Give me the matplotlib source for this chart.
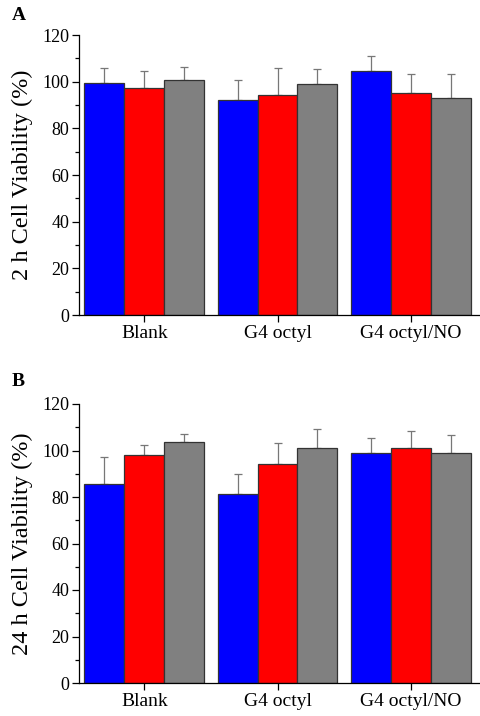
import matplotlib.pyplot as plt
import numpy as np
from matplotlib.ticker import MultipleLocator

plt.rcParams["font.family"] = ["Liberation Serif", "DejaVu Serif"]

groups = ["Blank", "G4 octyl", "G4 octyl/NO"]
series_colors = ["#0000FF", "#FF0000", "#808080"]

# panel A, 2 h viability (rows = blue, red, gray series)
vals_2h = [
    [99.3, 92.0, 104.6],
    [97.1, 94.4, 95.1],
    [100.6, 99.1, 93.1],
]
err_2h = [
    [6.7, 8.6, 6.6],
    [7.5, 11.5, 8.0],
    [5.8, 6.5, 10.3],
]

# panel B, 24 h viability
vals_24h = [
    [85.7, 81.5, 99.0],
    [98.0, 94.2, 101.2],
    [103.8, 100.9, 99.0],
]
err_24h = [
    [11.3, 8.6, 6.2],
    [4.5, 8.9, 7.3],
    [3.3, 8.2, 7.5],
]

fig = plt.figure(figsize=(4.81, 7.16), dpi=100)
W, H = 481, 716


def draw_panel(rect, vals, errs, ylabel, letter, letter_y):
    ax = fig.add_axes(rect)
    x = np.arange(1, len(groups) + 1)
    bw = 0.3
    for i, (v, e) in enumerate(zip(vals, errs)):
        ax.bar(x + (i - 1) * bw, v, width=bw, color=series_colors[i],
               edgecolor="#333333", linewidth=0.9, zorder=2)
        ax.errorbar(x + (i - 1) * bw, v, yerr=[np.zeros(len(e)), e],
                    fmt="none", ecolor="#777777", elinewidth=0.9,
                    capsize=3, capthick=0.9, zorder=1)
    ax.set_xlim(0.51, 3.52)
    ax.set_ylim(0, 120)
    ax.yaxis.set_major_locator(MultipleLocator(20))
    ax.yaxis.set_minor_locator(MultipleLocator(10))
    ax.set_xticks(x)
    ax.set_xticklabels(groups, fontsize=14)
    ax.tick_params(axis="y", labelsize=13, direction="out", length=5, width=0.9, pad=2)
    ax.tick_params(axis="y", which="minor", direction="out", length=3, width=0.9)
    ax.tick_params(axis="x", direction="out", length=5, width=0.9, pad=2)
    ax.spines["top"].set_visible(False)
    ax.spines["right"].set_visible(False)
    ax.spines["left"].set_linewidth(0.9)
    ax.spines["bottom"].set_linewidth(0.9)
    ax.set_ylabel(ylabel, fontsize=17.5, labelpad=7)
    fig.text(12 / W, 1 - letter_y / H, letter, fontsize=14, fontweight="bold",
             va="center", ha="left")
    return ax


def rect_px(left, top, right, bottom):
    return [left / W, 1 - bottom / H, (right - left) / W, (bottom - top) / H]


draw_panel(rect_px(79, 35, 480, 315), vals_2h, err_2h,
           "2 h Cell Viability (%)", "A", 15)
draw_panel(rect_px(79, 404, 480, 683), vals_24h, err_24h,
           "24 h Cell Viability (%)", "B", 382)

fig.savefig("out.png", dpi=100)
